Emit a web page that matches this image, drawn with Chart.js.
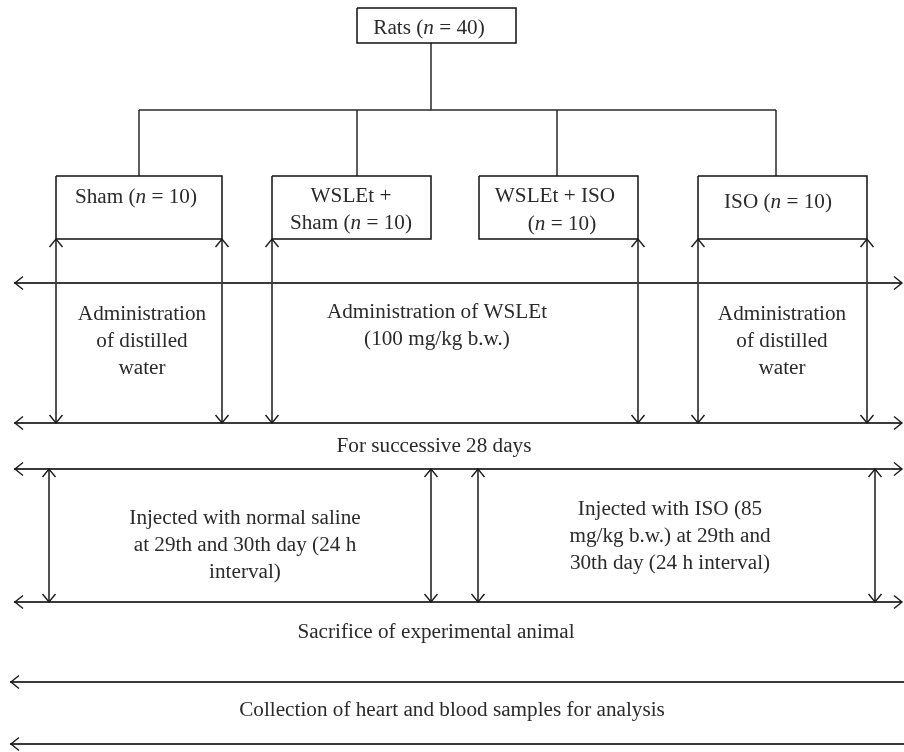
<!DOCTYPE html>
<html>
<head>
  <meta charset="utf-8" />
  <title>Experimental design</title>
  <style>
    body { margin: 0; background: #fff; }
    #stage { display: block; }
  </style>
</head>
<body>
  <canvas id="stage" width="904" height="752"></canvas>

  <script src="https://cdn.jsdelivr.net/npm/chart.js@4.4.0/dist/chart.umd.min.js"></script>
  <script>
    // groups (boxes), _x_ = italic
    const boxLeft = [357, 56, 272, 479, 698];
    const boxRight = [516, 222, 431, 638, 867];
    const boxTop = [8, 176, 176, 176, 176];
    const boxBottom = [43, 239, 239, 239, 239];

    // tree from "Rats" to the four groups
    const trunkX = 431;
    const branchY = 110;
    const dropX = [139, 357, 557, 776];

    // long horizontal arrows
    const rowY = [283, 423, 469, 602, 682, 744];
    const rowLeft = [15, 15, 15, 15, 11, 11];
    const rowRight = [902, 902, 902, 902, 904, 904];
    const rowHeads = ['both', 'both', 'both', 'both', 'start', 'start'];

    // vertical arrows, phase 1 (28 days) and phase 2 (day 29-30)
    const phase1X = [56, 222, 272, 638, 698, 867];
    const phase1Span = [239, 423];
    const phase2X = [49, 431, 478, 875];
    const phase2Span = [469, 602];

    // texts: lines, centre x, first baseline
    const textLines = [
      'Rats (_n_ = 40)',
      'Sham (_n_ = 10)',
      'WSLEt +\nSham (_n_ = 10)',
      'WSLEt + ISO',
      '(_n_ = 10)',
      'ISO (_n_ = 10)',
      'Administration\nof distilled\nwater',
      'Administration of WSLEt\n(100 mg/kg b.w.)',
      'Administration\nof distilled\nwater',
      'For successive 28 days',
      'Injected with normal saline\nat 29th and 30th day (24 h\ninterval)',
      'Injected with ISO (85\nmg/kg b.w.) at 29th and\n30th day (24 h interval)',
      'Sacrifice of experimental animal',
      'Collection of heart and blood samples for analysis'
    ];
    const textX = [429, 136, 351, 555, 562, 778, 142, 437, 782, 434, 245, 670, 436, 452];
    const textY = [34, 203, 202, 202, 230, 208, 320, 318, 320, 452, 524, 515, 638, 716];

    const INK = '#2a2a2a';
    const FONT = '"Liberation Serif", "Times New Roman", serif';
    const FONT_SIZE = 20;
    const STRETCH = 1.06;
    const LINE_H = 27;

    function seg(x0, y0, x1, y1, color, width) {
      return {
        data: [{ x: x0, y: y0 }, { x: x1, y: y1 }],
        showLine: true,
        pointRadius: 0,
        borderColor: color || INK,
        borderWidth: width || 1.5,
        fill: false,
        clip: false
      };
    }

    const datasets = [];
    const arrows = []; // [x, y, dx, dy] tip + direction

    boxLeft.forEach((l, i) => {
      const r = boxRight[i], t = boxTop[i], b = boxBottom[i];
      datasets.push({
        data: [{ x: l, y: t }, { x: r, y: t }, { x: r, y: b }, { x: l, y: b }, { x: l, y: t }],
        showLine: true, pointRadius: 0, borderColor: '#111', borderWidth: 1.5, fill: false, clip: false
      });
    });

    datasets.push(seg(trunkX, boxBottom[0], trunkX, branchY));
    datasets.push(seg(dropX[0], branchY, dropX[dropX.length - 1], branchY));
    dropX.forEach(x => datasets.push(seg(x, branchY, x, boxTop[1])));

    rowY.forEach((y, i) => {
      datasets.push(seg(rowLeft[i] - 1, y, rowRight[i], y, '#3a3a3a', 1.8));
      arrows.push([rowLeft[i], y, -1, 0]);
      if (rowHeads[i] === 'both') arrows.push([rowRight[i], y, 1, 0]);
    });

    [[phase1X, phase1Span], [phase2X, phase2Span]].forEach(([xs, span]) => {
      xs.forEach(x => {
        datasets.push(seg(x, span[0], x, span[1], '#1a1a1a', 1.5));
        arrows.push([x, span[0], 0, -1]);
        arrows.push([x, span[1], 0, 1]);
      });
    });

    function drawRich(ctx, str, cx, baseline) {
      const parts = str.split('_');
      let total = 0;
      const widths = parts.map((p, k) => {
        ctx.font = (k % 2 ? 'italic ' : '') + FONT_SIZE + 'px ' + FONT;
        const w = ctx.measureText(p).width * STRETCH;
        total += w;
        return w;
      });
      let x = cx - total / 2;
      parts.forEach((p, k) => {
        ctx.font = (k % 2 ? 'italic ' : '') + FONT_SIZE + 'px ' + FONT;
        ctx.save();
        ctx.translate(x, baseline);
        ctx.scale(STRETCH, 1);
        ctx.fillText(p, 0, 0);
        ctx.restore();
        x += widths[k];
      });
    }

    const diagramPlugin = {
      id: 'diagram',
      afterDatasetsDraw(chart) {
        const { ctx, scales } = chart;
        const sx = v => scales.x.getPixelForValue(v);
        const sy = v => scales.y.getPixelForValue(v);

        // arrow heads
        ctx.save();
        ctx.strokeStyle = '#1a1a1a';
        ctx.lineWidth = 1.4;
        arrows.forEach(([x, y, dx, dy]) => {
          const px = sx(x), py = sy(y);
          const len = 8, half = 6.5;
          const bx = px - dx * len, by = py - dy * len;
          ctx.beginPath();
          ctx.moveTo(bx - dy * half, by + dx * half);
          ctx.lineTo(px, py);
          ctx.lineTo(bx + dy * half, by - dx * half);
          ctx.stroke();
        });
        ctx.restore();

        // texts
        ctx.save();
        ctx.fillStyle = INK;
        ctx.textBaseline = 'alphabetic';
        ctx.textAlign = 'left';
        textLines.forEach((t, i) => {
          t.split('\n').forEach((line, j) => {
            drawRich(ctx, line, sx(textX[i]), sy(textY[i] + j * LINE_H));
          });
        });
        ctx.restore();
      }
    };

    new Chart(document.getElementById('stage'), {
      type: 'scatter',
      data: { datasets: datasets },
      options: {
        responsive: false,
        animation: false,
        layout: { padding: 0 },
        plugins: { legend: { display: false }, tooltip: { enabled: false } },
        scales: {
          x: { type: 'linear', min: 0, max: 904, display: false },
          y: { type: 'linear', min: 0, max: 752, reverse: true, display: false }
        }
      },
      plugins: [diagramPlugin]
    });
  </script>
</body>
</html>
